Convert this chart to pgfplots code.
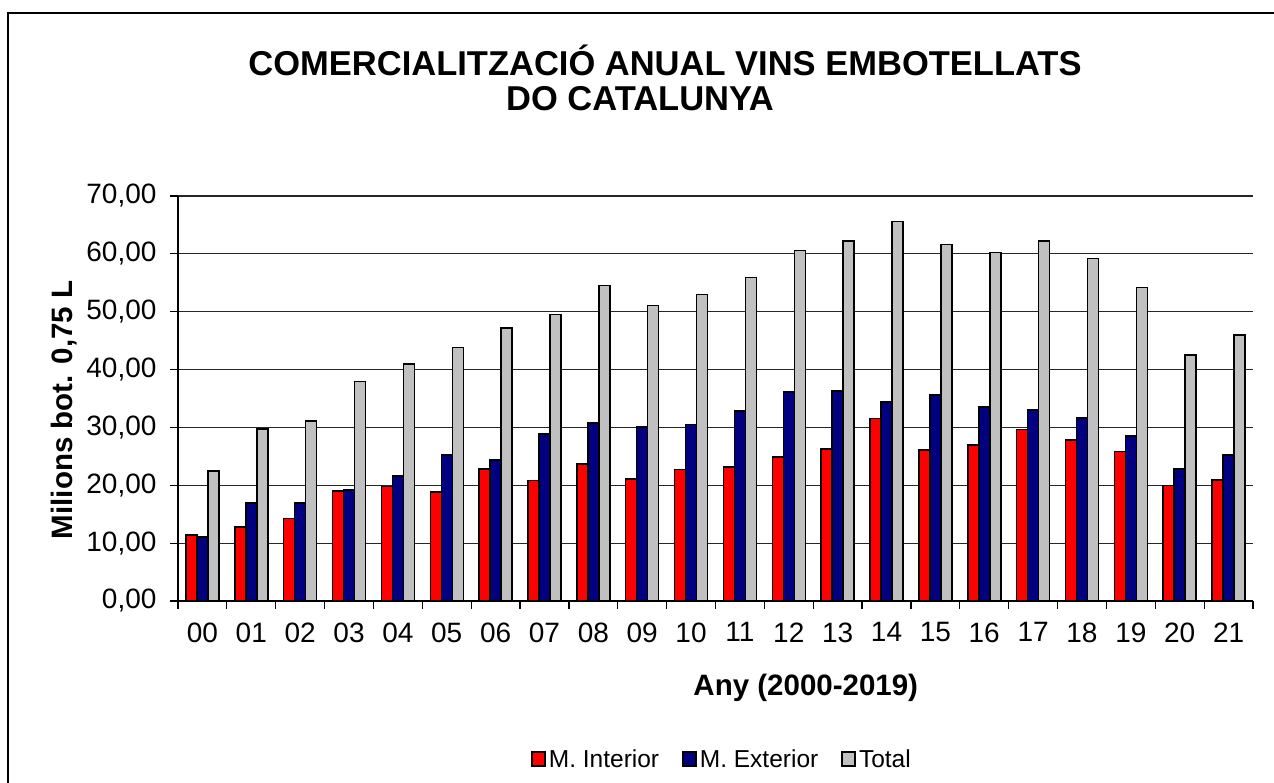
\documentclass[border=0pt]{standalone}
\usepackage{fontspec}
\setmainfont{Liberation Sans}
\usepackage{pgfplots}
\usepackage{pgfplotstable}
\pgfplotsset{compat=1.18}
\definecolor{cred}{RGB}{255,0,0}
\definecolor{cnavy}{RGB}{0,0,128}
\definecolor{cgray}{RGB}{192,192,192}
\pgfplotstableread{
yr int ext tot
0 11.4 11.1 22.5
1 12.8 16.9 29.7
2 14.3 16.9 31.1
3 19.0 19.2 37.9
4 19.8 21.6 41.0
5 18.8 25.2 43.8
6 22.8 24.4 47.2
7 20.8 28.9 49.5
8 23.7 30.8 54.5
9 21.1 30.1 51.1
10 22.7 30.5 53.0
11 23.2 32.8 55.9
12 24.9 36.1 60.6
13 26.3 36.3 62.2
14 31.5 34.4 65.6
15 26.1 35.6 61.6
16 27.0 33.5 60.2
17 29.6 33.0 62.2
18 27.8 31.6 59.2
19 25.8 28.5 54.2
20 20.0 22.8 42.5
21 20.9 25.2 46.0
}\datatable
\begin{document}
\begin{tikzpicture}[x=1pt,y=1pt]
\useasboundingbox (0,0) rectangle (1274,783);
\draw[line width=2pt] (8,-2) -- (8,770) -- (1276,770);
\node[font=\bfseries\fontsize{34.5}{40}\selectfont] at (665,723) {COMERCIALITZACIÓ ANUAL VINS EMBOTELLATS};
\node[font=\bfseries\fontsize{34.5}{40}\selectfont] at (640,684) {DO CATALUNYA};
\begin{axis}[
  at={(178pt,182pt)}, anchor=south west,
  scale only axis, width=1075pt, height=405pt,
  xmin=-0.5, xmax=21.5, ymin=0, ymax=70,
  ybar=0pt, bar width=11pt,
  axis lines=left, axis line style={-, line width=1.2pt, black},
  xtick={0,...,21},
  xticklabels={00,01,02,03,04,05,06,07,08,09,10,11,12,13,14,15,16,17,18,19,20,21},
  minor xtick={-0.5,0.5,...,21.5},
  major x tick style={draw=none},
  minor x tick style={line width=1.2pt, black},
  ytick={0,10,...,70},
  y tick style={line width=1.2pt, black},
  tick align=outside,
  major tick length=8pt, minor tick length=8pt,
  ymajorgrids, major grid style={line width=1.1pt, black!85},
  tick label style={font=\fontsize{28}{32}\selectfont},
  xticklabel style={yshift=-10pt},
  yticklabel style={xshift=-10pt, /pgf/number format/.cd, fixed, fixed zerofill, precision=2, use comma, assume math mode=true},
  xlabel={Any (2000-2019)},
  ylabel={Milions bot. 0,75 L},
  label style={font=\bfseries\fontsize{29.5}{33}\selectfont},
  xlabel style={at={(axis description cs:0.584,-0.215)}, anchor=center},
  ylabel style={at={(axis description cs:-0.106,0.472)}, anchor=center},
  legend style={at={(axis description cs:0.5065,-0.390)}, anchor=center, draw=none,
    legend columns=3, font=\fontsize{24.5}{28}\selectfont,
    nodes={inner xsep=3pt},
    /tikz/every even column/.append style={column sep=20pt}},
  sqleg/.style={legend image code/.code={\draw[##1, line width=1.7pt] (0pt,-7pt) rectangle (13pt,7pt);}},
  every axis plot/.append style={draw=black, line width=1.5pt},
]
\addplot[fill=cred, sqleg] table[x=yr, y=int] {\datatable};
\addplot[fill=cnavy, sqleg] table[x=yr, y=ext] {\datatable};
\addplot[fill=cgray, sqleg] table[x=yr, y=tot] {\datatable};
\legend{M. Interior, M. Exterior, Total}
\end{axis}
\end{tikzpicture}
\end{document}
